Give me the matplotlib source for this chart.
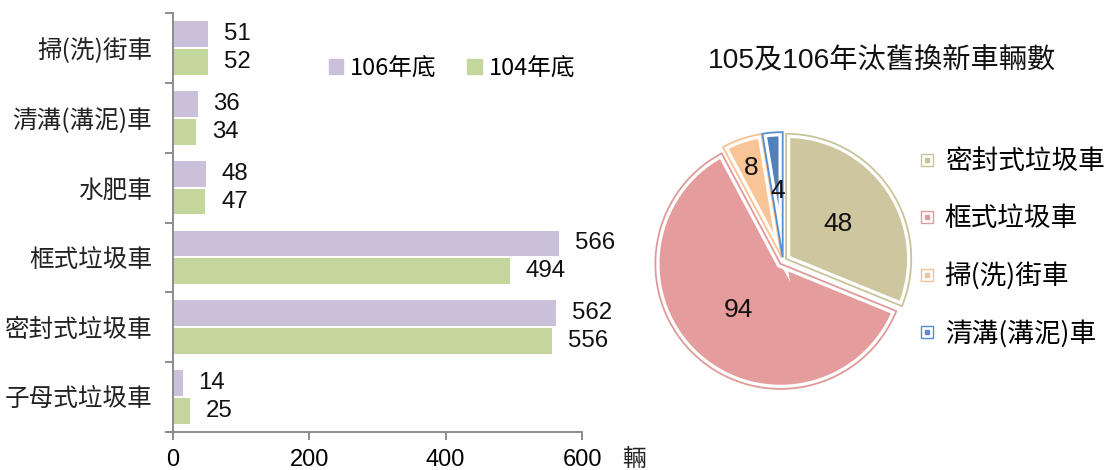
import matplotlib
matplotlib.use("Agg")
import matplotlib.pyplot as plt
from matplotlib.patches import Rectangle
from matplotlib.lines import Line2D
from matplotlib.legend_handler import HandlerTuple
import numpy as np

plt.rcParams['font.family'] = ['Noto Sans CJK TC', 'DejaVu Sans']

# ---- data ----
categories = ['掃(洗)街車', '清溝(溝泥)車', '水肥車', '框式垃圾車', '密封式垃圾車', '子母式垃圾車']
vals_106 = [51, 36, 48, 566, 562, 14]
vals_104 = [52, 34, 47, 494, 556, 25]
series_names = ['106年底', '104年底']
x_ticks = [0, 200, 400, 600]
x_unit = '輛'

pie_title = '105及106年汰舊換新車輛數'
pie_labels = ['密封式垃圾車', '框式垃圾車', '掃(洗)街車', '清溝(溝泥)車']
pie_values = [48, 94, 8, 4]

# ---- styles ----
W, H = 1105, 470
c106 = '#CBC0DA'
c104 = '#C3D69B'
pie_fill = ['#CEC69E', '#E59C9C', '#FAC596', '#4F81BD']
pie_edge = ['#C9C39A', '#E09A9A', '#F9C090', '#558ED5']
axis_grey = '#8C8C8C'
num_font = ['Liberation Sans', 'DejaVu Sans']

fig = plt.figure(figsize=(W / 100, H / 100), dpi=100)

# ---- bar chart ----
ax = fig.add_axes([173 / W, 38 / H, 409 / W, 419 / H])
n = len(categories)
ypos = np.arange(n)
bh = 0.37
off = 0.2
ax.barh(ypos - off, vals_106, height=bh, color=c106, label=series_names[0])
ax.barh(ypos + off, vals_104, height=bh, color=c104, label=series_names[1])
ax.set_ylim(n - 0.5, -0.5)
ax.set_xlim(0, 600)

for sp in ['top', 'right']:
    ax.spines[sp].set_visible(False)
for sp in ['left', 'bottom']:
    ax.spines[sp].set_color(axis_grey)
    ax.spines[sp].set_linewidth(1.4)

ax.set_yticks(np.arange(n + 1) - 0.5)
ax.set_yticklabels([])
ax.set_yticks(ypos, minor=True)
ax.set_yticklabels(categories, minor=True, fontsize=17.7, color='#222222')
ax.tick_params(axis='y', which='major', length=6, width=1.4, color=axis_grey, direction='out')
ax.tick_params(axis='y', which='minor', length=0, pad=15)

ax.set_xticks(x_ticks)
ax.set_xticklabels([str(t) for t in x_ticks], fontsize=17, family=num_font)
ax.tick_params(axis='x', length=6, width=1.4, color=axis_grey, direction='out', pad=6)

label_off = 16 * 600 / 409
for i in range(n):
    ax.text(vals_106[i] + label_off, ypos[i] - off, str(vals_106[i]), va='center', ha='left',
            fontsize=17.3, family=num_font, color='#111111')
    ax.text(vals_104[i] + label_off, ypos[i] + off, str(vals_104[i]), va='center', ha='left',
            fontsize=17.3, family=num_font, color='#111111')

fig.text(634 / W, 1 - 459 / H, x_unit, ha='center', va='center', fontsize=17, color='#222222')

leg_handles = [Rectangle((0, 0), 1, 1, color=c106), Rectangle((0, 0), 1, 1, color=c104)]
ax.legend(leg_handles, series_names, loc='center left', ncol=2,
          bbox_to_anchor=(329 / W, 1 - 68 / H), bbox_transform=fig.transFigure,
          frameon=False, fontsize=17, handlelength=0.6, handleheight=0.6,
          handletextpad=0.3, columnspacing=1.3, borderpad=0, borderaxespad=0)

# ---- pie chart ----
R = 136
cx, cy = 783, 261
half = 1.15
size = 2 * half * R
pax = fig.add_axes([(cx - size / 2) / W, (H - cy - size / 2) / H, size / W, size / H])
pax.set_xlim(-half, half)
pax.set_ylim(-half, half)
pax.set_aspect('equal')
pax.axis('off')

explode = [0.03, 0.03, 0.03, 0.03]
total = sum(pie_values)
wedges, texts, autotexts = pax.pie(
    pie_values, colors=pie_fill, startangle=90, counterclock=False, explode=explode,
    autopct=lambda p: f'{round(p * total / 100)}', pctdistance=0.5,
    wedgeprops=dict(edgecolor='white', linewidth=6),
    textprops=dict(fontsize=19, family=num_font, color='#111111'))
outl, _ = pax.pie(pie_values, colors=['none'] * 4, startangle=90, counterclock=False,
                  explode=explode, wedgeprops=dict(linewidth=1.3))
for w, ec in zip(outl, pie_edge):
    w.set_facecolor('none')
    w.set_edgecolor(ec)

# push the small slice labels to where the reference shows them
scale = {2: 0.74 / 0.5, 3: 0.53 / 0.5}
for i, k in scale.items():
    x, y = autotexts[i].get_position()
    autotexts[i].set_position((x * k, y * k))

fig.text(882 / W, 1 - 60 / H, pie_title, ha='center', va='center', fontsize=20.3,
         family=['Liberation Sans', 'Noto Sans CJK TC'], color='#111111')

pie_handles = [(Line2D([], [], marker='s', markersize=9, markerfacecolor='white',
                       markeredgecolor=ec, markeredgewidth=1, linestyle=''),
                Line2D([], [], marker='s', markersize=2.5, color=ec, linestyle=''))
               for ec in pie_edge]
fig.legend(pie_handles, pie_labels, loc='center left',
           bbox_to_anchor=(918 / W, 1 - 248 / H), frameon=False, fontsize=19.2,
           handler_map={tuple: HandlerTuple(ndivide=1)}, handlelength=0.7,
           handletextpad=0.3, labelspacing=1.12, borderpad=0, borderaxespad=0)

fig.savefig('out.png', dpi=100)
